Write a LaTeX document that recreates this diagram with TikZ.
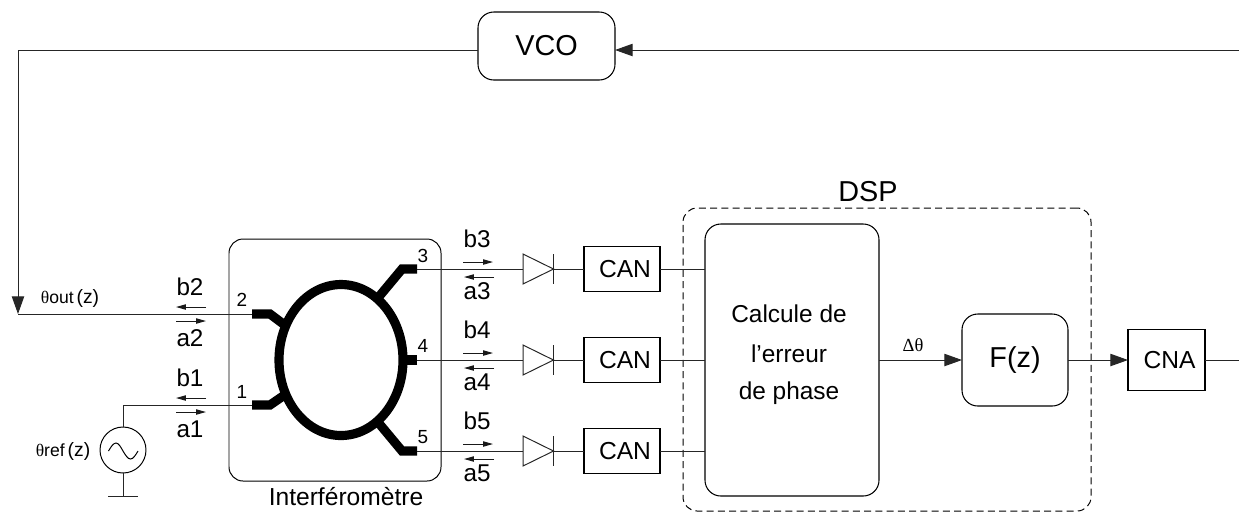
\documentclass[tikz,border=0pt]{standalone}
\usepackage{fontspec}
\setmainfont{Liberation Sans}
\newfontfamily\thetafont{Liberation Serif}
\usetikzlibrary{arrows.meta}

\def\px{0.02cm}
\newcommand{\fsz}[1]{\fontsize{#1}{#1}\selectfont}

\tikzset{
    every node/.style={inner sep=0pt, outer sep=0pt},
    wire/.style={line width=0.56pt, black!85},
    bigarrow/.style={wire, -{Triangle[length=10pt, width=7pt]}},
    wave/.style={line width=0.56pt, black!90, -{Triangle[length=5.6pt, width=3pt]}},
    squarebox/.style={draw, line width=0.6pt, font=\fsz{14pt}},
    roundbox/.style={draw, line width=0.6pt, rounded corners=9pt, font=\fsz{16.4pt}},
    microstrip/.style={line width=5.2pt, black},
    wavelabel/.style={font=\fsz{13.8pt}},
    portlabel/.style={font=\fsz{10.8pt}},
}

\begin{document}
\begin{tikzpicture}[x=0.02cm, y=-0.02cm]

\useasboundingbox (0,0) rectangle (1239,512);

% --- feedback loop ---
\node[roundbox, minimum width=137*\px, minimum height=68*\px] (vco) at (546.5,46) {VCO};
\coordinate (loopright) at (1239,50);
\coordinate (loopcorner) at (18,50);
\coordinate (loopend) at (18,314);
\draw[wire] (vco.west |- loopcorner) -- (loopcorner);
\draw[bigarrow] (loopcorner) -- (loopend);
\draw[bigarrow] (loopright) -- (vco.east |- loopright);

% --- interferometer ---
\node[draw, line width=0.56pt, rounded corners=8pt, minimum width=212*\px, minimum height=242*\px]
    (interfero) at (335,360) {};
\node[font=\fsz{14pt}] (interfname) at (346,497) {Interféromètre};
\coordinate (ring) at (341,360);
\draw[line width=5.2pt, black] (ring) ellipse (62 and 75.5);

% --- ports: pads and arms ---
\coordinate (port1) at (252,405);
\coordinate (port2) at (252,314);
\coordinate (port3) at (417,269);
\coordinate (port4) at (417,360);
\coordinate (port5) at (417,451);
\draw[microstrip] (port1) -- (270,405) -- (286,394);
\draw[microstrip] (port2) -- (270,314) -- (286,326);
\draw[microstrip] (port3) -- (402,269) -- (377,299);
\draw[microstrip] (port4) -- (400,360);
\draw[microstrip] (port5) -- (402,451) -- (377,421);

\node[portlabel] (num1) at (242,392) {1};
\node[portlabel] (num2) at (242,300) {2};
\node[portlabel] (num3) at (423,256) {3};
\node[portlabel] (num4) at (423,346) {4};
\node[portlabel] (num5) at (423,437) {5};

% --- left side waves ---
\draw[wire] (loopend) -- (port2);
\foreach \n/\y in {1/405, 2/314} {
    \draw[wave] (206,\y-7) -- (176,\y-7);
    \draw[wave] (176,\y+7) -- (206,\y+7);
    \node[wavelabel] (b\n) at (190,\y-27) {b\n};
    \node[wavelabel] (a\n) at (190,\y+24) {a\n};
}

\node[font=\fsz{10pt}] (thetaout) at (70,298) {{\thetafont θ}out\,{\fsz{11pt}(z)}};

% --- reference source ---
\node[draw, line width=0.56pt, circle, minimum size=46*\px] (source) at (123,450) {};
\coordinate (sourcetop) at (123,405);
\coordinate (ground) at (123,496);
\draw[wire] (port1) -- (sourcetop) -- (source.north);
\draw[wire] (source.south) -- (ground);
\draw[wire] (ground) ++(-15,0) -- ++(30,0);
\draw[line width=0.56pt] (108.5,451) sin (116,443) cos (123,451) sin (130.5,459) cos (138,451);
\node[font=\fsz{10pt}] (thetaref) at (63,451) {{\thetafont θ}ref\,{\fsz{11pt}(z)}};

% --- DSP ---
\node[draw, dashed, dash pattern=on 4pt off 2.4pt, line width=0.56pt, rounded corners=8pt,
    minimum width=408*\px, minimum height=303*\px] (dsp) at (887,359.5) {};
\node[font=\fsz{16.4pt}] (dspname) at (868,192) {DSP};

\node[draw, line width=0.6pt, rounded corners=9pt,
    minimum width=174*\px, minimum height=272*\px] (calc) at (792,360) {};
\node[font=\fsz{13.9pt}] (calc1) at (789,314) {Calcule de};
\node[font=\fsz{13.9pt}] (calc2) at (789,354) {l’erreur};
\node[font=\fsz{13.9pt}] (calc3) at (789,393) {de phase};

% --- output channels ---
\foreach \n/\y in {3/269, 4/360, 5/451} {
    \node[squarebox, minimum width=76*\px, minimum height=45*\px] (can\n) at (622,\y) {\hspace{3.4pt}CAN};
    \coordinate (dioin\n) at (523,\y);
    \coordinate (dioout\n) at (553.5,\y);
    \draw[wire] (port\n) -- (dioin\n);
    \draw[wire] (dioin\n) -- ++(0,-15) -- (dioout\n) -- (523,\y+15) -- cycle;
    \draw[wire] (553.5,\y-15) -- (553.5,\y+15);
    \draw[wire] (dioout\n) -- (can\n.west);
    \draw[wire] (can\n.east) -- (calc.west |- can\n.east);
    \draw[wave] (463,\y-7) -- (493,\y-7);
    \draw[wave] (494,\y+8) -- (464,\y+8);
    \node[wavelabel] (b\n) at (477,\y-30) {b\n};
    \node[wavelabel] (a\n) at (477,\y+22) {a\n};
}

% --- loop filter and converter ---
\node[roundbox, minimum width=106*\px, minimum height=92*\px] (filter) at (1015,360) {F(z)};
\node[squarebox, minimum width=77*\px, minimum height=61*\px] (cna) at (1166.5,360) {\hspace{3.4pt}CNA};
\coordinate (cnaout) at (1239,360);
\draw[bigarrow] (calc.east |- filter.west) -- (filter.west);
\draw[bigarrow] (filter.east) -- (cna.west);
\draw[wire] (cna.east) -- (cnaout);
\node[font=\thetafont\fsz{10.5pt}] (delta) at (913,345) {Δθ};

\end{tikzpicture}
\end{document}
